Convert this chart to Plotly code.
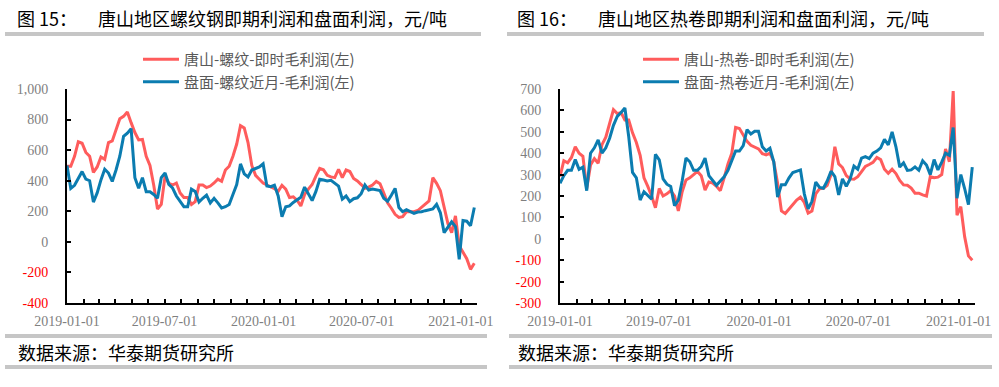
import plotly.graph_objects as go
import pandas as pd

# ---------------- data (weekly samples) ----------------
dates = pd.date_range("2019-01-01", periods=109, freq="7D")

rebar_spot = [495, 495, 560, 655, 645, 585, 560, 455, 490, 555,
              540, 650, 660, 740, 805, 821, 850, 780, 715, 667,
              670, 560, 500, 370, 215, 245, 430, 383, 372, 385,
              320, 290, 290, 245, 263, 372, 372, 355, 365, 385,
              410, 396, 470, 495, 560, 640, 760, 745, 650, 500,
              435, 410, 385, 372, 360, 348, 330, 370, 345, 290,
              295, 272, 235, 310, 345, 375, 430, 480, 471, 435,
              425, 420, 475, 420, 470, 460, 415, 398, 375, 350,
              358, 372, 395, 380, 320, 255, 220, 180, 160, 165,
              197, 197, 197, 205, 225, 242, 268, 420, 383, 335,
              230, 120, 60, 170, -25, -65, -110, -180, -140]

rebar_futures = [500, 350, 370, 420, 460, 410, 400, 260, 320, 405,
                 475, 450, 395, 470, 560, 690, 711, 740, 420, 350,
                 420, 328, 328, 310, 285, 420, 450, 376, 352, 300,
                 263, 230, 230, 345, 330, 260, 285, 306, 255, 285,
                 255, 222, 230, 245, 310, 375, 510, 445, 425, 470,
                 480, 490, 510, 365, 361, 370, 300, 165, 230, 235,
                 258, 275, 292, 358, 317, 270, 330, 410, 405, 398,
                 403, 385, 365, 280, 300, 263, 282, 288, 315, 372,
                 339, 345, 340, 335, 285, 265, 305, 350, 225, 197,
                 210, 200, 186, 195, 197, 204, 208, 215, 245, 190,
                 60, 95, 131, 100, -115, 140, 135, 105, 225]

coil_spot = [291, 365, 355, 380, 430, 400, 386, 235, 345, 375,
             353, 440, 475, 540, 603, 585, 590, 555, 555, 495,
             450, 390, 285, 245, 200, 145, 235, 200, 210, 225,
             200, 130, 220, 275, 285, 300, 315, 295, 228, 265,
             260, 245, 225, 285, 350, 400, 520, 515, 486, 455,
             437, 428, 420, 398, 392, 400, 360, 260, 130, 118,
             140, 160, 181, 195, 170, 120, 130, 210, 234, 236,
             250, 300, 430, 350, 333, 295, 280, 278, 290, 314,
             338, 347, 357, 380, 370, 325, 306, 325, 305, 273,
             252, 250, 237, 213, 213, 205, 200, 290, 285, 288,
             300, 420, 360, 690, 110, 150, 10, -80, -100]

coil_futures = [259, 295, 320, 320, 370, 325, 335, 225, 400, 425,
                462, 400, 425, 470, 530, 572, 590, 611, 478, 310,
                285, 181, 220, 200, 185, 395, 369, 280, 255, 245,
                155, 181, 270, 377, 360, 320, 320, 338, 377, 295,
                270, 250, 270, 290, 320, 370, 410, 410, 435, 510,
                490, 502, 502, 430, 410, 423, 360, 195, 252, 252,
                285, 310, 317, 322, 210, 140, 175, 265, 240, 236,
                270, 316, 291, 205, 280, 245, 280, 340, 325, 377,
                384, 375, 400, 410, 425, 465, 439, 500, 430, 335,
                355, 320, 322, 336, 320, 365, 345, 300, 370, 322,
                358, 400, 390, 520, 190, 300, 235, 160, 335]

names_left = ["唐山-螺纹-即时毛利润(左)", "盘面-螺纹近月-毛利润(左)"]
names_right = ["唐山-热卷-即时毛利润(左)", "盘面-热卷近月-毛利润(左)"]
titles = [("图 15：", "唐山地区螺纹钢即期利润和盘面利润，元/吨"),
          ("图 16：", "唐山地区热卷即期利润和盘面利润，元/吨")]
source = "数据来源：华泰期货研究所"

left_ticks = [-400, -200, 0, 200, 400, 600, 800, 1000]
right_ticks = [-300, -200, -100, 0, 100, 200, 300, 400, 500, 600, 700]

# ---------------- style ----------------
W, H = 999, 387
RED = "#FF5C5C"
BLUE = "#0B7CB0"
LABEL_GRAY = "#7F7F7F"
NEG_RED = "#FF0000"
SERIF = "Liberation Serif"
CJK = "Noto Sans CJK SC"


def px(x):
    return x / W


def py(y):
    return 1 - y / H


def tick_text(vals):
    out = []
    for v in vals:
        s = f"{v:,}"
        if v < 0:
            s = f'<span style="color:{NEG_RED}">{s}</span>'
        out.append(s)
    return out


fig = go.Figure()
fig.add_trace(go.Scatter(x=dates, y=rebar_spot, name=names_left[0], mode="lines",
                         line=dict(color=RED, width=3), xaxis="x", yaxis="y", legend="legend"))
fig.add_trace(go.Scatter(x=dates, y=rebar_futures, name=names_left[1], mode="lines",
                         line=dict(color=BLUE, width=3), xaxis="x", yaxis="y", legend="legend"))
fig.add_trace(go.Scatter(x=dates, y=coil_spot, name=names_right[0], mode="lines",
                         line=dict(color=RED, width=3), xaxis="x2", yaxis="y2", legend="legend2"))
fig.add_trace(go.Scatter(x=dates, y=coil_futures, name=names_right[1], mode="lines",
                         line=dict(color=BLUE, width=3), xaxis="x2", yaxis="y2", legend="legend2"))

xcommon = dict(
    type="date", range=["2019-01-01", "2021-01-31"], tick0="2019-01-01", dtick="M6",
    tickformat="%Y-%m-%d", showline=True, linecolor="black", linewidth=2,
    ticks="inside", ticklen=4, tickwidth=1.5, tickcolor="black", showgrid=False,
    zeroline=False, tickfont=dict(family=SERIF, size=14, color=LABEL_GRAY),
    ticklabelstandoff=4, automargin=False,
    minor=dict(dtick="M1", tick0="2019-01-01", ticks="inside", ticklen=4, tickwidth=1.5,
               tickcolor="black", showgrid=False),
)
ycommon = dict(
    showline=True, linecolor="black", linewidth=2, ticks="inside", ticklen=4,
    tickwidth=1.5, tickcolor="black", showgrid=False, zeroline=False,
    tickfont=dict(family=SERIF, size=14, color=LABEL_GRAY), ticklabelstandoff=14,
    tickmode="array", automargin=False,
)

legend_common = dict(
    xanchor="left", yanchor="top", bgcolor="rgba(0,0,0,0)",
    font=dict(family=CJK, size=15, color="#595959"), itemwidth=36,
    tracegroupgap=0,
)

fig.update_layout(
    width=W, height=H, autosize=False,
    margin=dict(l=0, r=0, t=0, b=0, pad=0, autoexpand=False),
    paper_bgcolor="white", plot_bgcolor="white",
    xaxis=dict(xcommon, domain=[px(67), px(477)], anchor="y"),
    yaxis=dict(ycommon, domain=[py(303), py(89)], anchor="x", range=[-400, 1000],
               tickvals=left_ticks, ticktext=tick_text(left_ticks)),
    xaxis2=dict(xcommon, domain=[px(560), px(975)], anchor="y2"),
    yaxis2=dict(ycommon, domain=[py(303), py(89)], anchor="x2", range=[-300, 700],
                tickvals=right_ticks, ticktext=tick_text(right_ticks)),
    legend=dict(legend_common, x=px(138), y=py(43)),
    legend2=dict(legend_common, x=px(638), y=py(43)),
    showlegend=True,
)

annotations = []
for i, (fig_no, title) in enumerate(titles):
    off = 500 * i
    annotations.append(dict(text=fig_no, x=px(15 + off), y=py(18), xref="paper", yref="paper",
                            xanchor="left", yanchor="middle", showarrow=False,
                            font=dict(family=CJK, size=18, color="black")))
    annotations.append(dict(text=title, x=px(96 + off), y=py(18), xref="paper", yref="paper",
                            xanchor="left", yanchor="middle", showarrow=False,
                            font=dict(family=CJK, size=18, color="black")))
    annotations.append(dict(text=source, x=px(16 + off), y=py(352), xref="paper", yref="paper",
                            xanchor="left", yanchor="middle", showarrow=False,
                            font=dict(family=CJK, size=18, color="black")))
fig.update_layout(annotations=annotations)

shapes = []
for (x0, x1) in [(5, 481), (507, 984)]:
    shapes.append(dict(type="rect", xref="paper", yref="paper", x0=px(x0), x1=px(x1),
                       y0=py(36), y1=py(32), fillcolor="#C6C6C6", line=dict(width=0)))
for (x0, x1) in [(5, 487), (509, 992)]:
    for yc in (336, 367):
        shapes.append(dict(type="rect", xref="paper", yref="paper", x0=px(x0), x1=px(x1),
                           y0=py(yc + 2), y1=py(yc - 2), fillcolor="#C6C6C6", line=dict(width=0)))
fig.update_layout(shapes=shapes)

# remove the page's default 8px body margin so the figure sits at the window's corner
fig.write_html("out.html", config={"displayModeBar": False},
               post_script="document.body.style.margin='0';")
